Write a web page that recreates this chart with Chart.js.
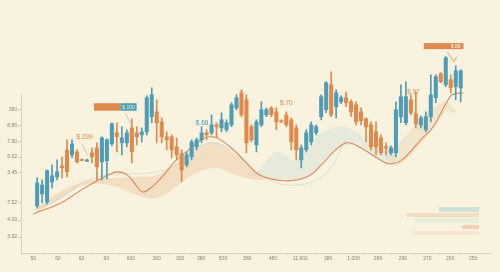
<!DOCTYPE html>
<html>
<head>
<meta charset="utf-8">
<script src="https://cdn.jsdelivr.net/npm/chart.js@4.4.0/dist/chart.umd.min.js"></script>
<style>
html, body { margin: 0; padding: 0; background: #f8f2df; }
#wrap { width: 500px; height: 272px; position: relative; }
</style>
</head>
<body>
<div id="wrap"><canvas id="chart"></canvas></div>
<script>
// candle values, one entry per session
const opens  = [2.96,3.72,3.21,4.47,4.79,5.48,6.49,6.17,6.36,5.88,5.78,6.30,6.61,5.73,5.80,6.87,7.56,6.93,6.93,7.87,
                7.56,7.43,7.62,8.57,8.88,8.25,7.31,7.31,6.68,6.24,5.54,6.05,6.68,7.12,7.56,7.56,8.06,7.87,7.75,8.06,
                9.13,10.08,9.64,7.94,6.80,8.06,8.69,9.13,8.88,8.32,8.69,8.38,7.87,5.86,6.49,6.99,7.56,8.57,9.01,10.58,
                9.20,9.51,9.76,9.51,9.32,8.88,8.44,8.06,7.62,7.24,6.68,6.30,6.30,8.57,8.19,9.64,8.76,8.06,7.75,8.57,
                9.76,11.28,10.58,10.90,10.46,10.39];
const highs  = [4.72,4.60,5.23,5.54,5.86,6.05,7.12,7.12,6.49,5.92,5.90,6.61,6.93,7.31,7.18,8.19,8.19,7.94,7.75,8.44,
                7.94,7.87,9.89,10.39,9.64,8.50,7.62,7.43,7.24,6.49,6.36,7.12,7.24,7.94,7.75,8.69,8.19,8.82,8.38,9.45,
                9.95,10.27,9.95,8.06,8.38,9.51,9.13,9.20,9.13,8.38,8.88,8.50,8.06,6.80,7.75,8.25,8.06,9.95,10.77,11.40,
                10.27,9.89,10.14,9.64,9.51,9.13,8.50,8.25,8.25,7.43,6.93,6.74,9.50,10.58,10.77,9.95,10.14,8.63,8.88,11.21,
                11.21,11.34,12.35,11.21,11.78,11.53];
const lows   = [2.83,3.15,3.09,4.09,4.60,4.72,4.79,5.98,5.67,5.80,5.75,5.67,4.60,4.60,4.66,6.74,6.36,6.17,6.68,5.67,
                6.80,6.99,7.43,8.19,6.93,6.93,6.49,5.98,5.86,4.47,5.42,5.86,6.49,6.93,7.12,7.43,7.24,7.62,7.62,7.94,
                9.01,8.57,6.30,6.99,6.36,7.94,8.57,8.57,7.75,8.19,7.94,6.49,5.86,5.36,6.36,6.80,7.43,8.38,8.82,8.57,
                8.50,9.39,9.20,8.57,8.06,8.06,6.99,6.49,6.17,6.17,6.17,6.17,6.05,8.19,8.06,8.69,7.87,7.87,7.62,8.25,
                9.45,10.71,10.46,10.08,9.64,9.51];
const closes = [4.41,4.28,5.17,4.85,5.10,5.36,5.10,6.86,5.73,5.82,5.85,6.05,5.42,7.24,7.12,8.13,7.31,7.24,7.56,6.36,
                7.31,7.62,9.76,9.95,8.19,7.31,7.12,6.49,6.17,5.23,6.17,6.99,7.12,7.56,7.43,8.06,7.94,8.38,8.19,9.32,
                9.76,8.69,6.93,7.12,8.25,9.01,9.01,8.69,8.25,8.25,8.06,6.99,6.49,6.61,7.56,8.06,7.94,9.83,10.71,8.69,
                10.08,9.76,9.45,8.88,8.25,8.32,7.94,6.68,6.68,6.30,6.61,6.61,9.01,9.83,9.83,8.82,8.13,8.50,8.57,9.95,
                11.09,10.77,12.28,10.39,11.46,11.46];

// moving average line
const maX = [-0.76,4.75,9.89,14.26,16.16,18.06,19.96,21.10,22.81,25.10,27.57,30.42,33.27,34.60,36.12,38.97,41.83,44.68,
             49.81,54.18,57.03,59.89,62.36,65.59,68.82,70.72,73.19,76.99,79.47,82.13,83.27,85.55];
const maY = [2.46,3.15,4.16,4.91,5.10,4.91,4.22,3.84,4.09,4.79,5.73,6.49,7.18,7.31,7.24,6.61,5.73,4.91,
             4.54,4.79,5.54,6.49,6.93,6.49,5.86,5.61,5.86,7.12,7.94,9.45,9.95,10.08];

// faint signal line
const sigX = [-0.76,4.75,9.89,14.26,22.43,27.57,31.94,35.17,38.97,42.78,46.58,50.38,55.13,58.94,61.79];
const sigY = [2.71,3.46,4.54,4.91,5.04,5.48,6.61,6.93,6.49,5.35,4.60,4.28,4.47,5.35,7.12];

// shaded ranges
const warmX    = [0,4,8,12,16,20,24,28,32,36,40,44,46];
const warmHigh = [2.83,3.72,4.35,4.66,4.72,4.79,4.91,5.67,6.61,6.93,6.11,5.10,4.72];
const warmLow  = [2.58,3.28,4.09,4.35,4.16,3.65,3.46,4.22,5.04,5.35,4.91,4.60,4.60];
const coolX    = [40,44,48,52,56,60,64,68,72];
const coolHigh = [4.72,5.10,6.36,5.86,7.31,7.94,7.62,6.74,6.61];
const coolLow  = [4.72,4.85,4.60,4.54,5.23,6.49,6.74,5.98,5.67];
const lateX    = [70,72,74,76,78,80,82,84];
const lateHigh = [6.49,6.80,7.37,8.13,8.76,9.26,9.51,8.99];
const lateLow  = [5.54,5.48,5.86,6.49,7.24,8.00,8.88,8.76];

// axis ticks
const xTickVals   = [-0.76,4.18,8.9,13.9,18.8,24,28.7,32.9,37.3,42.2,47.3,52.8,58.4,63.5,68.4,73.4,78.3,82.9,87.5];
const xTickLabels = ['50','60','60','90','600','360','300','380','500','580','480','11,900','380','1,000','280','290','270','200','250'];
const yTickVals   = [1.0,2.07,3.15,5.05,6.03,7.0,8.0,9.0];
const yTickLabels = ['3.62','4.03','7.52','3.45','6.62','7.50','8.80','380'];

// price notes
const noteText  = ['$.299','$.68','$.70','$.97'];
const noteIdx   = [9.5,33.1,50,75.5];
const noteVal   = [7.31,8.19,9.39,10.14];
const noteColor = ['#df8a4c','#4e9db5','#df8a4c','#df8a4c'];

const TEAL = '#4e9db5';
const ORANGE = '#df8a4c';
const FONT = '"Liberation Sans", Arial, sans-serif';

const idx = opens.map((_, i) => i);
const candleColors = idx.map(i => closes[i] >= opens[i] ? TEAL : ORANGE);

function curve(xs, ys) {
    return xs.map((x, i) => ({ x: x, y: ys[i] }));
}

function band(xs, ys, fill, color) {
    return {
        type: 'line', data: curve(xs, ys), borderWidth: 0, pointRadius: 0,
        tension: 0.4, fill: fill, backgroundColor: color, order: 10, clip: false
    };
}

const notes = {
    id: 'notes',
    beforeDatasetsDraw(chart) {
        const ctx = chart.ctx;
        // little legend strips at bottom right
        const strips = [
            [439, 207, 40, 5, '#cfe0d8'],
            [407, 213, 72, 4, '#f2ddc2'],
            [415, 218, 64, 5, '#eaecdb'],
            [462, 225, 17, 4, '#f0d1b0'],
            [413, 231, 66, 4, '#f6e6cf']
        ];
        ctx.save();
        strips.forEach(s => {
            ctx.fillStyle = s[4];
            ctx.fillRect(s[0], s[1], s[2], s[3]);
        });
        ctx.restore();
    },
    afterDatasetsDraw(chart) {
        const ctx = chart.ctx;
        const x = chart.scales.x, y = chart.scales.y;
        ctx.save();
        ctx.font = '6.5px ' + FONT;
        ctx.textAlign = 'center';
        ctx.textBaseline = 'middle';
        noteText.forEach((t, k) => {
            ctx.fillStyle = noteColor[k];
            ctx.fillText(t, x.getPixelForValue(noteIdx[k]), y.getPixelForValue(noteVal[k]));
        });

        // leader lines
        ctx.lineWidth = 0.7;
        ctx.strokeStyle = '#a9b3ae';
        [[9.1, 6.8, 10.1, 6.17], [17.7, 8.82, 18.8, 8.13]].forEach(l => {
            ctx.beginPath();
            ctx.moveTo(x.getPixelForValue(l[0]), y.getPixelForValue(l[1]));
            ctx.lineTo(x.getPixelForValue(l[2]), y.getPixelForValue(l[3]));
            ctx.stroke();
        });

        // tag "$.100"
        const b1 = x.getPixelForValue(11.4), b2 = x.getPixelForValue(16.7), b3 = x.getPixelForValue(19.96);
        const t1 = y.getPixelForValue(9.42), t2 = y.getPixelForValue(8.95);
        ctx.fillStyle = ORANGE;
        ctx.fillRect(b1, t1, b2 - b1, t2 - t1);
        ctx.fillStyle = TEAL;
        ctx.fillRect(b2, t1, b3 - b2, t2 - t1);
        ctx.fillStyle = '#eef6f4';
        ctx.font = '5px ' + FONT;
        ctx.fillText('$.100', (b2 + b3) / 2, (t1 + t2) / 2 + 0.3);

        // tag "9.50"
        const c1 = x.getPixelForValue(77.6), c2 = x.getPixelForValue(85.55);
        const u1 = y.getPixelForValue(13.2), u2 = y.getPixelForValue(12.82);
        ctx.fillStyle = ORANGE;
        ctx.fillRect(c1, u1, c2 - c1, u2 - u1);
        ctx.fillStyle = '#fbeee0';
        ctx.font = 'bold 5px ' + FONT;
        ctx.fillText('9.50', x.getPixelForValue(84), (u1 + u2) / 2 + 0.3);

        ctx.strokeStyle = ORANGE;
        ctx.lineWidth = 0.8;
        ctx.beginPath();
        ctx.moveTo(x.getPixelForValue(82.3), y.getPixelForValue(12.65));
        ctx.lineTo(x.getPixelForValue(83.6), y.getPixelForValue(12.03));
        ctx.lineTo(x.getPixelForValue(84.2), y.getPixelForValue(12.35));
        ctx.stroke();
        ctx.restore();
    }
};

const ctx = document.getElementById('chart');
const chart = new Chart(ctx, {
    type: 'bar',
    data: {
        datasets: [
            band(warmX, warmLow, false, 'transparent'),
            band(warmX, warmHigh, '-1', 'rgba(236,198,160,0.45)'),
            band(coolX, coolLow, false, 'transparent'),
            band(coolX, coolHigh, '-1', 'rgba(200,220,208,0.35)'),
            band(lateX, lateLow, false, 'transparent'),
            band(lateX, lateHigh, '-1', 'rgba(232,214,182,0.45)'),
            {
                type: 'line', data: curve(sigX, sigY), borderColor: 'rgba(160,196,194,0.55)',
                borderWidth: 0.7, pointRadius: 0, tension: 0.4, fill: false, order: 5, clip: false
            },
            {
                type: 'line', data: curve(maX, maY), borderColor: '#d9895a',
                borderWidth: 1.1, pointRadius: 0, tension: 0.4, fill: false, order: 4, clip: false
            },
            {
                label: 'wicks',
                data: idx.map(i => ({ x: i, y: [lows[i], highs[i]] })),
                backgroundColor: candleColors, barThickness: 1, grouped: false, order: 2, clip: false
            },
            {
                label: 'bodies',
                data: idx.map(i => ({ x: i, y: [opens[i], closes[i]] })),
                backgroundColor: candleColors, barThickness: 3.4, grouped: false, order: 1, clip: false
            }
        ]
    },
    options: {
        responsive: true,
        maintainAspectRatio: false,
        animation: false,
        layout: { padding: { top: 94, right: 10, left: 0, bottom: 0 } },
        plugins: { legend: { display: false }, tooltip: { enabled: false } },
        scales: {
            x: {
                type: 'linear', min: -0.76, max: 88.4,
                afterBuildTicks: s => { s.ticks = xTickVals.map(v => ({ value: v })); },
                afterFit: s => { s.height = 19; },
                ticks: {
                    autoSkip: false, maxRotation: 0, padding: 1, color: '#85857a',
                    font: { size: 5, family: FONT },
                    callback: (v, i) => xTickLabels[i]
                },
                grid: { drawOnChartArea: false, tickLength: 2, color: '#d6d0bd' },
                border: { color: '#d6d0bd' }
            },
            y: {
                type: 'linear', min: 0, max: 10,
                afterBuildTicks: s => { s.ticks = yTickVals.map(v => ({ value: v })); },
                afterFit: s => { s.width = 21; },
                ticks: {
                    padding: 1, color: '#85857a',
                    font: { size: 5, family: FONT },
                    callback: (v, i) => yTickLabels[i]
                },
                grid: { drawOnChartArea: false, tickLength: 3, color: '#d6d0bd' },
                border: { color: '#d6d0bd' }
            }
        }
    },
    plugins: [notes]
});
</script>
</body>
</html>
